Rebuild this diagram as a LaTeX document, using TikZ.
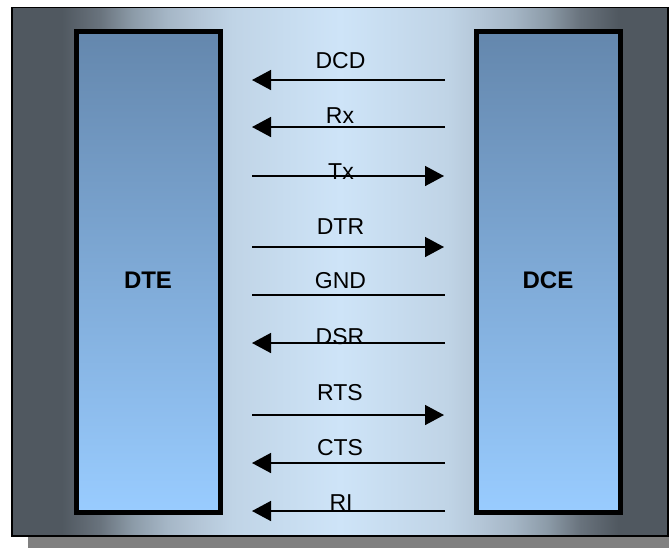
\documentclass[tikz,border=0pt]{standalone}
\usepackage{fontspec}
\setmainfont{Liberation Sans}
\usetikzlibrary{arrows.meta}

\definecolor{panelDark}{RGB}{80,88,96}
\definecolor{panelDim}{RGB}{105,115,125}
\definecolor{panelGrey}{RGB}{140,155,168}
\definecolor{panelMist}{RGB}{165,182,198}
\definecolor{panelHaze}{RGB}{180,198,215}
\definecolor{panelPale}{RGB}{192,212,230}
\definecolor{panelLight}{RGB}{206,228,248}
\definecolor{boxTop}{RGB}{100,135,173}
\definecolor{boxBottom}{RGB}{153,204,255}
\definecolor{shadowGrey}{RGB}{128,128,128}

% Light band in the middle, dark towards both sides.
\pgfdeclarehorizontalshading{panel}{100bp}{
  color(0bp)=(panelDark); color(25bp)=(panelDark);
  color(28.8bp)=(panelDark); color(31.7bp)=(panelDim);
  color(34.2bp)=(panelGrey); color(36.8bp)=(panelMist);
  color(39.3bp)=(panelHaze); color(41.8bp)=(panelPale);
  color(50bp)=(panelLight);
  color(58.2bp)=(panelPale); color(60.7bp)=(panelHaze);
  color(63.2bp)=(panelMist); color(65.8bp)=(panelGrey);
  color(68.3bp)=(panelDim); color(71.2bp)=(panelDark);
  color(75bp)=(panelDark); color(100bp)=(panelDark)}

\begin{document}
\begin{tikzpicture}[
  x=1pt, y=-1pt,
  device/.style={
    draw=black,
    line width=5pt,
    top color=boxTop,
    bottom color=boxBottom
  },
  devname/.style={
    anchor=base,
    font=\fontsize{24}{28}\selectfont\bfseries,
    inner sep=0pt
  },
  signame/.style={
    anchor=base,
    font=\fontsize{23}{27}\selectfont,
    inner sep=0pt
  },
  signal/.style={
    line width=1.5pt
  },
  tip/.style={
    -{Triangle[length=19pt,width=20pt]}
  }
]
  \useasboundingbox (0,0) rectangle (669,547);

  % Frame with its drop shadow.
  \fill[shadowGrey] (28,19) rectangle (690,560);
  \draw[line width=1.2pt, shading=panel] (12,7.5) rectangle (668,536);

  % The two devices.
  \draw[device] (76.5,31.5) rectangle (220,512);
  \draw[device] (476,31.5) rectangle (620,512);
  \node[devname] (dte) at (148,288) {DTE};
  \node[devname] (dce) at (548,288) {DCE};

  % Line ends, one pair per signal.
  \coordinate (dcdL) at (252,80);  \coordinate (dcdR) at (445,80);
  \coordinate (rxL)  at (252,127); \coordinate (rxR)  at (445,127);
  \coordinate (txL)  at (252,176); \coordinate (txR)  at (444,176);
  \coordinate (dtrL) at (252,247); \coordinate (dtrR) at (444,247);
  \coordinate (gndL) at (252,295); \coordinate (gndR) at (445,295);
  \coordinate (dsrL) at (252,343); \coordinate (dsrR) at (445,343);
  \coordinate (rtsL) at (252,415); \coordinate (rtsR) at (444,415);
  \coordinate (ctsL) at (252,463); \coordinate (ctsR) at (445,463);
  \coordinate (riL)  at (252,511); \coordinate (riR)  at (445,511);

  \draw[signal, tip] (dcdR) -- (dcdL);
  \draw[signal, tip] (rxR) -- (rxL);
  \draw[signal, tip] (txL) -- (txR);
  \draw[signal, tip] (dtrL) -- (dtrR);
  \draw[signal]      (gndL) -- (gndR);
  \draw[signal, tip] (dsrR) -- (dsrL);
  \draw[signal, tip] (rtsL) -- (rtsR);
  \draw[signal, tip] (ctsR) -- (ctsL);
  \draw[signal, tip] (riR) -- (riL);

  % Signal names, some of them sit on their line.
  \node[signame] (dcd) at (340.5,68.3) {DCD};
  \node[signame] (rx)  at (340,123.3)  {Rx};
  \node[signame] (tx)  at (341,179)    {Tx};
  \node[signame] (dtr) at (340.5,234)  {DTR};
  \node[signame] (gnd) at (340.5,288)  {GND};
  \node[signame] (dsr) at (340,344)    {DSR};
  \node[signame] (rts) at (340,400)    {RTS};
  \node[signame] (cts) at (340,455)    {CTS};
  \node[signame] (ri)  at (341,510)    {RI};
\end{tikzpicture}
\end{document}
